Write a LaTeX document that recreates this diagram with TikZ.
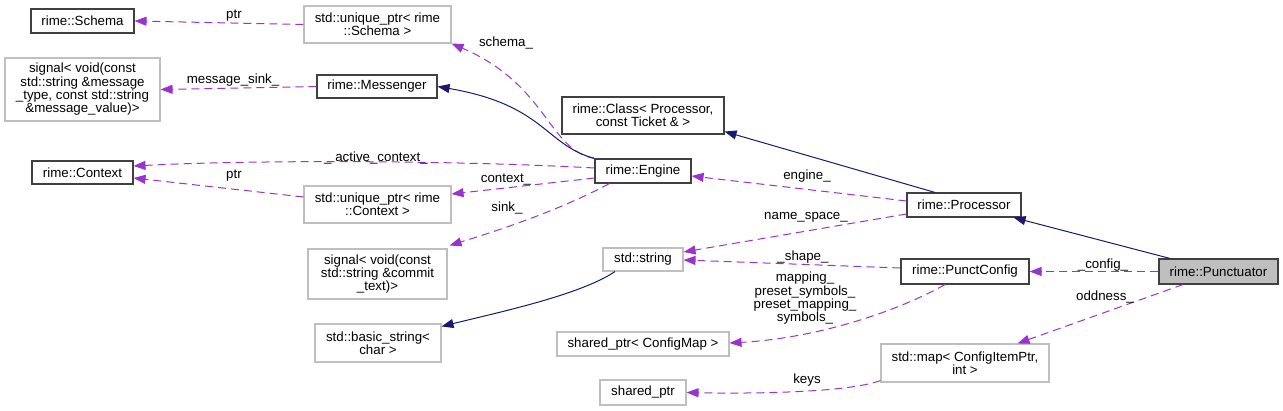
\documentclass[tikz,border=0pt]{standalone}
\usepackage{fontspec}
\setmainfont{Liberation Sans}
\usetikzlibrary{arrows.meta}
\definecolor{edgepurple}{HTML}{9A32CD}
\definecolor{edgenavy}{HTML}{191970}
\definecolor{boxgray}{HTML}{BFBFBF}
\definecolor{boxdark}{HTML}{404040}
\begin{document}
\begin{tikzpicture}[x=1pt,y=-1pt,
  every node/.style={font=\fontsize{13.3}{13.3}\selectfont},
  cls/.style={draw=boxdark,line width=1.1pt,inner sep=0pt,align=center,fill=white},
  ext/.style={draw=boxgray,line width=1.1pt,inner sep=0pt,align=center,fill=white},
  cur/.style={draw=boxdark,line width=1.1pt,inner sep=0pt,align=center,fill=boxgray},
  usage/.style={draw=edgepurple,line width=1pt,dash pattern=on 8pt off 5pt,
     -{Triangle[length=12pt,width=9pt,fill=edgepurple]}},
  inherit/.style={draw=edgenavy,line width=1pt,
     -{Triangle[length=12pt,width=9pt,fill=edgenavy]}},
  lbl/.style={inner sep=0pt,fill=none}]
\useasboundingbox (0,0) rectangle (1283,411);

% nodes
\node[cls,minimum width=103pt,minimum height=24pt] (schema) at (82.5,21) {rime::Schema};
\node[ext,minimum width=147pt,minimum height=37pt] (uschema) at (377.5,24.5) {std::unique\_ptr< rime\\::Schema >};
\node[ext,minimum width=155pt,minimum height=63pt] (sigmsg) at (82.5,89.5) {signal< void(const\\std::string \&message\\\_type, const std::string\\\&message\_value)>};
\node[cls,minimum width=120pt,minimum height=23pt] (messenger) at (377,86.5) {rime::Messenger};
\node[cls,minimum width=162pt,minimum height=37pt] (klass) at (643,115.5) {rime::Class< Processor,\\const Ticket \& >};
\node[cls,minimum width=101pt,minimum height=23pt] (context) at (82.5,172.5) {rime::Context};
\node[cls,minimum width=96pt,minimum height=24pt] (engine) at (643,171) {rime::Engine};
\node[ext,minimum width=147pt,minimum height=37pt] (ucontext) at (377.5,204.5) {std::unique\_ptr< rime\\::Context >};
\node[ext,minimum width=139pt,minimum height=50pt] (sigcommit) at (377.5,274) {signal< void(const\\std::string \&commit\\\_text)>};
\node[cls,minimum width=114pt,minimum height=24pt] (processor) at (964,205) {rime::Processor};
\node[ext,minimum width=80pt,minimum height=23pt] (string) at (643,259.5) {std::string};
\node[cls,minimum width=128pt,minimum height=25pt] (punctconfig) at (965,271.5) {rime::PunctConfig};
\node[cur,minimum width=119pt,minimum height=25pt] (punctuator) at (1218.5,271.5) {rime::Punctuator};
\node[ext,minimum width=126pt,minimum height=38pt] (basicstr) at (378,343) {std::basic\_string<\\char >};
\node[ext,minimum width=172pt,minimum height=24pt] (spconfigmap) at (643,344) {shared\_ptr< ConfigMap >};
\node[ext,minimum width=168pt,minimum height=38pt] (stdmap) at (965,363) {std::map< ConfigItemPtr,\\int >};
\node[ext,minimum width=86pt,minimum height=25pt] (sharedptr) at (643,392.5) {shared\_ptr};

% edges
\draw[usage] (uschema.west) -- (schema.east);
\node[lbl] (l1) at (234,16) {ptr};

\draw[usage] (engine.north west) .. controls (548,150) and (548,85) .. (uschema.south east);
\node[lbl] (l2) at (506,43) {schema\_};

\draw[inherit] (engine.north west) .. controls (545,145) and (545,105) .. (messenger.east);

\draw[usage] (messenger.west) -- (sigmsg.east);
\node[lbl] (l3) at (233,80) {message\_sink\_};

\draw[usage] ([yshift=3pt]engine.west) .. controls (450,160) and (250,160) .. ([yshift=6.5pt]context.east);
\node[lbl] (l4) at (376,158) {\_ active\_context\_};

\draw[usage] ([yshift=7.5pt]ucontext.west) -- ([yshift=-5.5pt]context.east);
\node[lbl] (l5) at (234,176) {ptr};

\draw[usage] ([yshift=-7pt]engine.west) -- ([yshift=10.5pt]ucontext.east);
\node[lbl] (l6) at (506,180) {context\_};

\draw[usage] ([xshift=15pt]engine.south west) .. controls (560,210) and (500,230) .. ([xshift=2pt,yshift=3pt]sigcommit.north east);
\node[lbl] (l7) at (507,208) {sink\_};

\draw[usage] ([yshift=4pt]processor.west) -- ([yshift=-5pt]engine.east);
\node[lbl] (l8) at (807,176) {engine\_};

\draw[inherit] ([xshift=-29pt]processor.north) -- ([yshift=3pt]klass.south east);

\draw[inherit] ([xshift=-48.5pt]punctuator.north) -- ([xshift=-8pt]processor.south east);

\draw[usage] ([yshift=-9pt]processor.west) -- ([yshift=7.5pt]string.east);
\node[lbl] (l9) at (806,217) {name\_space\_};

\draw[usage] ([yshift=3.5pt]punctconfig.west) -- ([yshift=-0.5pt]string.east);
\node[lbl] (l10) at (803,257) {\_shape\_};

\draw[usage] ([xshift=-20pt]punctconfig.south) .. controls (900,310) and (820,338) .. ([yshift=1pt]spconfigmap.east);
\node[lbl,align=center] (l11) at (805,298.5) {mapping\_\\preset\_symbols\_\\preset\_mapping\_\\symbols\_};

\draw[usage] (punctuator.west) -- (punctconfig.east);
\node[lbl] (l12) at (1103,265) {\_config\_};

\draw[usage] ([xshift=-35.5pt]punctuator.south) -- ([xshift=-32pt]stdmap.north east);
\node[lbl] (l13) at (1105,297) {oddness\_};

\draw[usage] ([yshift=2pt]stdmap.south west) .. controls (850,392) and (760,394) .. (sharedptr.east);
\node[lbl] (l14) at (807,380) {keys};

\draw[inherit] ([xshift=-28pt]string.south) .. controls (580,295) and (500,312) .. ([yshift=-3pt]basicstr.north east);
\end{tikzpicture}
\end{document}
